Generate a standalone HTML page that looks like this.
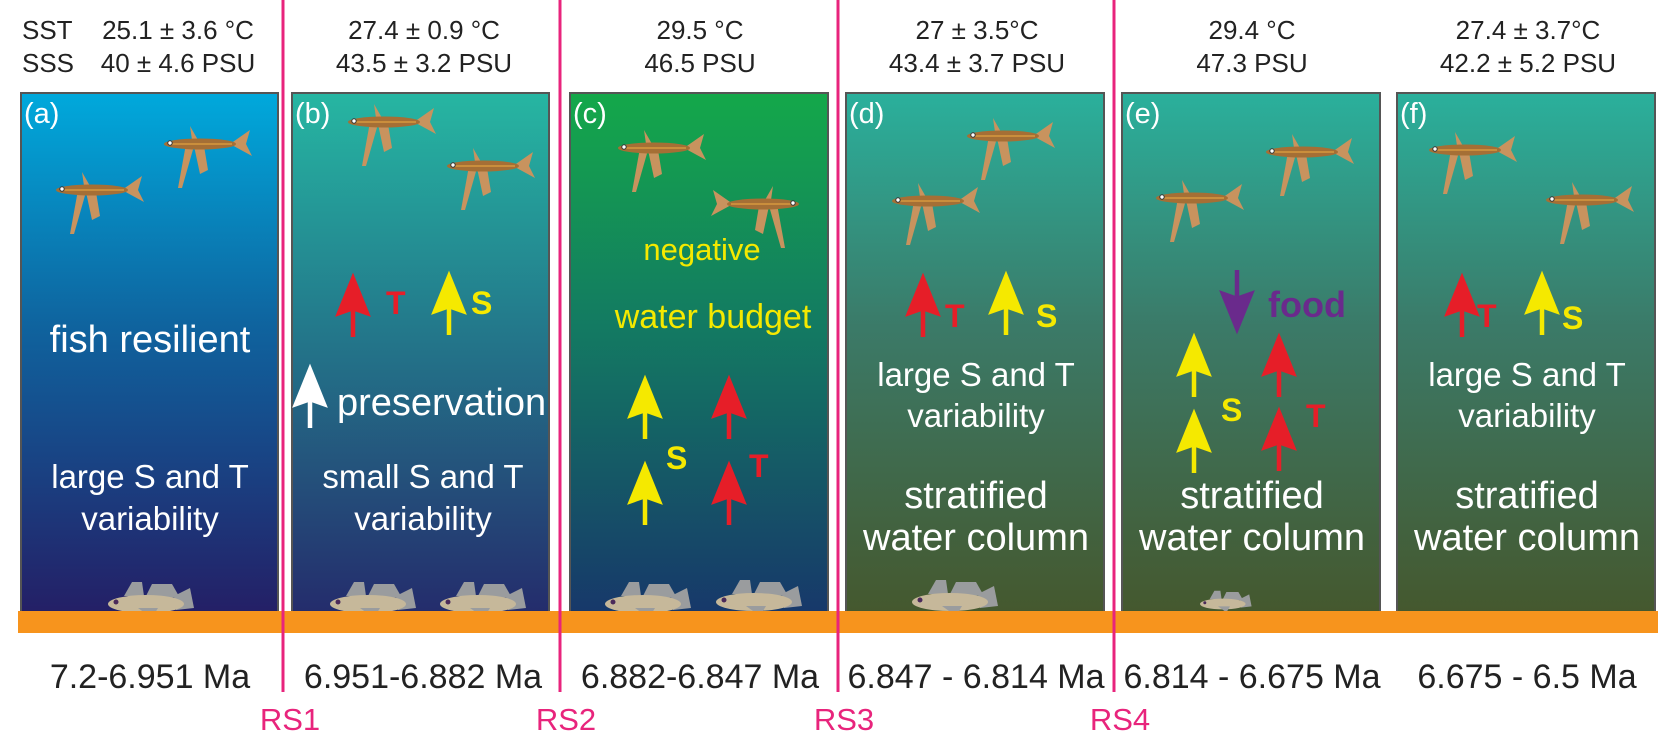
<!DOCTYPE html>
<html><head><meta charset="utf-8"><style>
body{margin:0;background:#fff;}
svg{display:block;font-family:"Liberation Sans",Arial,sans-serif;}
</style></head><body>
<svg width="1667" height="745" viewBox="0 0 1667 745">
<defs>
<linearGradient id="ga" x1="0" y1="0" x2="0" y2="1"><stop offset="0" stop-color="#00a9dc"/><stop offset="0.45" stop-color="#0f639e"/><stop offset="1" stop-color="#241f66"/></linearGradient>
<linearGradient id="gb" x1="0" y1="0" x2="0" y2="1"><stop offset="0" stop-color="#26b6a2"/><stop offset="0.4" stop-color="#23808e"/><stop offset="1" stop-color="#242c6c"/></linearGradient>
<linearGradient id="gc" x1="0" y1="0" x2="0" y2="1"><stop offset="0" stop-color="#14a84a"/><stop offset="0.45" stop-color="#137a62"/><stop offset="1" stop-color="#17386a"/></linearGradient>
<linearGradient id="gd" x1="0" y1="0" x2="0" y2="1"><stop offset="0" stop-color="#2ab09c"/><stop offset="0.45" stop-color="#3b7a68"/><stop offset="1" stop-color="#45582e"/></linearGradient>
<g id="ff">
<path d="M22,0 L14,44 L18,44 L30,2Z" fill="#c8935e"/>
<path d="M30,2 L36,30 L44,26 L40,2Z" fill="#c8935e"/>
<path d="M28,-4 L26,-18 L34,-4Z" fill="#c8935e"/>
<path d="M66,0 L86,-14 L82,0 L88,12Z" fill="#c8935e"/>
<ellipse cx="36" cy="0" rx="36" ry="5.5" fill="#a56f35"/>
<line x1="4" y1="0" x2="68" y2="0" stroke="#e0a040" stroke-width="1.2"/>
<circle cx="6" cy="-1" r="2.2" fill="#fff" stroke="#333" stroke-width="1"/>
</g>
<g id="gob">
<path d="M16,-8 L24,-22 L34,-22 L36,-8Z" fill="#9a9c9e"/>
<path d="M38,-8 L44,-20 L64,-20 L72,-6Z" fill="#9a9c9e"/>
<path d="M66,-8 L82,-16 L86,4 L68,6Z" fill="#9a9c9e"/>
<ellipse cx="38" cy="0" rx="38" ry="9" fill="#c6b89a"/>
<path d="M30,4 L44,14 L50,4Z" fill="#9a9c9e"/>
<circle cx="8" cy="-2" r="2.5" fill="#4a2a5a"/>
</g>
<g id="au"><line x1="0" y1="63" x2="0" y2="30" stroke-width="4.5"/><path d="M-17,42 L0,0 L17,42 L0,36Z"/></g>
</defs>

<g font-size="26" fill="#222">
<text x="22" y="39">SST</text>
<text x="22" y="72">SSS</text>
<g text-anchor="middle">
<text x="178" y="39">25.1 ± 3.6 °C</text><text x="178" y="72">40 ± 4.6 PSU</text>
<text x="424" y="39">27.4 ± 0.9 °C</text><text x="424" y="72">43.5 ± 3.2 PSU</text>
<text x="700" y="39">29.5 °C</text><text x="700" y="72">46.5 PSU</text>
<text x="977" y="39">27 ± 3.5°C</text><text x="977" y="72">43.4 ± 3.7 PSU</text>
<text x="1252" y="39">29.4 °C</text><text x="1252" y="72">47.3 PSU</text>
<text x="1528" y="39">27.4 ± 3.7°C</text><text x="1528" y="72">42.2 ± 5.2 PSU</text>
</g></g>

<g stroke="#555" stroke-width="2">
<rect x="21" y="93" width="257" height="520" fill="url(#ga)"/>
<rect x="292" y="93" width="257" height="520" fill="url(#gb)"/>
<rect x="570" y="93" width="258" height="520" fill="url(#gc)"/>
<rect x="846" y="93" width="258" height="520" fill="url(#gd)"/>
<rect x="1122" y="93" width="258" height="520" fill="url(#gd)"/>
<rect x="1397" y="93" width="258" height="520" fill="url(#gd)"/>
</g>

<g>
<use href="#ff" x="164" y="144"/><use href="#ff" x="56" y="190"/>
<use href="#ff" x="348" y="122"/><use href="#ff" x="447" y="166"/>
<use href="#ff" x="618" y="148"/><use href="#ff" x="715" y="204" transform="translate(1512,0) scale(-1,1) translate(-2,0)"/>
<use href="#ff" x="967" y="136"/><use href="#ff" x="892" y="201"/>
<use href="#ff" x="1266" y="152"/><use href="#ff" x="1156" y="198"/>
<use href="#ff" x="1429" y="150"/><use href="#ff" x="1546" y="200"/>
</g>
<g>
<use href="#gob" x="108" y="604"/>
<use href="#gob" x="330" y="604"/><use href="#gob" x="440" y="604"/>
<use href="#gob" x="605" y="604"/><use href="#gob" x="716" y="602"/>
<use href="#gob" x="912" y="602"/>
<use href="#gob" x="1200" y="604" transform="translate(1200,604) scale(0.6) translate(-1200,-604)"/>
</g>

<rect x="18" y="611" width="1640" height="22" fill="#f7941d"/>

<g fill="#fff" font-size="29">
<text x="24" y="123">(a)</text><text x="295" y="123">(b)</text><text x="573" y="123">(c)</text>
<text x="849" y="123">(d)</text><text x="1125" y="123">(e)</text><text x="1400" y="123">(f)</text>
</g>

<g>
<g fill="#e61e28" stroke="#e61e28">
<use href="#au" x="353" y="274"/><use href="#au" x="729" y="376"/><use href="#au" x="729" y="462"/>
<use href="#au" x="923" y="274"/><use href="#au" x="1279" y="334"/><use href="#au" x="1279" y="408"/>
<use href="#au" x="1462" y="274"/>
</g>
<g fill="#f5e900" stroke="#f5e900">
<use href="#au" x="449" y="272"/><use href="#au" x="645" y="376"/><use href="#au" x="645" y="462"/>
<use href="#au" x="1006" y="272"/><use href="#au" x="1194" y="334"/><use href="#au" x="1194" y="410"/>
<use href="#au" x="1542" y="272"/>
</g>
<g fill="#fff" stroke="#fff"><use href="#au" x="310" y="365"/></g>
<g fill="#6a2a8c" stroke="#6a2a8c"><use href="#au" transform="translate(1237,333) scale(1,-1)"/></g>
</g>

<g font-weight="bold" font-size="32">
<g fill="#e61e28"><text x="386" y="314">T</text><text x="749" y="477">T</text><text x="945" y="327">T</text><text x="1306" y="427">T</text><text x="1477" y="327">T</text></g>
<g fill="#f5e900"><text x="471" y="314">S</text><text x="666" y="469">S</text><text x="1036" y="327">S</text><text x="1221" y="421">S</text><text x="1562" y="329">S</text></g>
<text x="1268" y="317" fill="#6a2a8c" font-size="36">food</text>
</g>

<g fill="#fff" text-anchor="middle">
<text x="150" y="352" font-size="38">fish resilient</text>
<text x="150" y="488" font-size="33">large S and T</text><text x="150" y="530" font-size="33">variability</text>
<text x="337" y="415" font-size="38" text-anchor="start">preservation</text>
<text x="423" y="488" font-size="33">small S and T</text><text x="423" y="530" font-size="33">variability</text>
<text x="702" y="260" font-size="31" fill="#f5e900">negative</text><text x="713" y="328" font-size="34" fill="#f5e900">water budget</text>
<text x="976" y="386" font-size="33">large S and T</text><text x="976" y="427" font-size="33">variability</text>
<text x="976" y="508" font-size="38">stratified</text><text x="976" y="550" font-size="38">water column</text>
<text x="1252" y="508" font-size="38">stratified</text><text x="1252" y="550" font-size="38">water column</text>
<text x="1527" y="386" font-size="33">large S and T</text><text x="1527" y="427" font-size="33">variability</text>
<text x="1527" y="508" font-size="38">stratified</text><text x="1527" y="550" font-size="38">water column</text>
</g>

<g font-size="34" fill="#222" text-anchor="middle">
<text x="150" y="688">7.2-6.951 Ma</text><text x="423" y="688">6.951-6.882 Ma</text>
<text x="700" y="688">6.882-6.847 Ma</text><text x="976" y="688">6.847 - 6.814 Ma</text>
<text x="1252" y="688">6.814 - 6.675 Ma</text><text x="1527" y="688">6.675 - 6.5 Ma</text>
</g>

<g stroke="#e8247c" stroke-width="3">
<line x1="283" y1="0" x2="283" y2="692"/><line x1="560" y1="0" x2="560" y2="692"/>
<line x1="838" y1="0" x2="838" y2="692"/><line x1="1114" y1="0" x2="1114" y2="692"/>
</g>
<g fill="#e8247c" font-size="31" text-anchor="middle">
<text x="290" y="730">RS1</text><text x="566" y="730">RS2</text><text x="844" y="730">RS3</text><text x="1120" y="730">RS4</text>
</g>
</svg>
</body></html>
